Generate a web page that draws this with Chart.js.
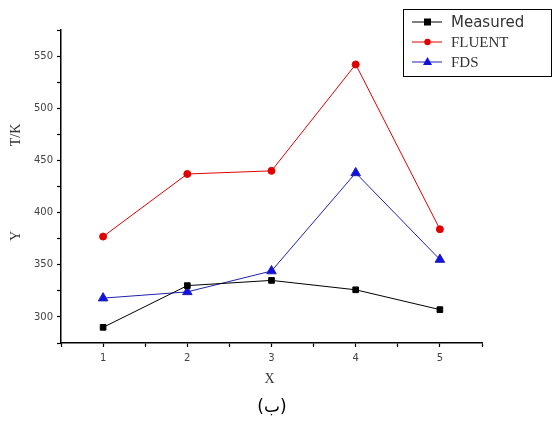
<!DOCTYPE html>
<html>
<head>
<meta charset="utf-8">
<script src="https://cdn.jsdelivr.net/npm/chart.js@4/dist/chart.umd.min.js"></script>
<style>
  html, body { margin: 0; padding: 0; background: #fff; }
  #wrap { width: 553px; height: 427px; }
</style>
</head>
<body>
<div id="wrap"><canvas id="grafico" width="553" height="427"></canvas></div>
<script>
// datos
const xValores = [1, 2, 3, 4, 5];
const medido = [290, 330, 335, 326, 307];
const fluent = [377, 437, 440, 542, 384];
const fds = [318, 324, 344, 438, 355];
const nombresSeries = ["Measured", "FLUENT", "FDS"];
const textoCaption = "(ب)";

const puntos = (ys) => xValores.map((x, i) => ({ x: x, y: ys[i] }));

// textos extra: titulos de ejes, leyenda con caja y caption
const extrasPlugin = {
    id: "extras",
    afterDraw(chart) {
        const ctx = chart.ctx;
        const area = chart.chartArea;
        ctx.save();
        ctx.fillStyle = "#333";
        ctx.font = "14px 'Liberation Serif'";
        ctx.textAlign = "center";
        ctx.textBaseline = "middle";
        // titulos del eje Y (rotados)
        [["T/K", 135], ["Y", 236]].forEach(([t, y]) => {
            ctx.save();
            ctx.translate(16, y);
            ctx.rotate(-Math.PI / 2);
            ctx.fillText(t, 0, 0);
            ctx.restore();
        });
        ctx.fillText("X", (area.left + area.right) / 2 - 2, 379);

        // caption
        ctx.fillStyle = "#000";
        ctx.font = "17px 'DejaVu Sans'";
        ctx.fillText(textoCaption, 272, 408);

        // leyenda
        ctx.strokeStyle = "#000";
        ctx.lineWidth = 1;
        ctx.strokeRect(403.5, 9.5, 148, 67);
        const estilos = [
            { color: "#000", marca: "square", font: "15px 'DejaVu Sans'" },
            { color: "#e00000", marca: "circle", font: "15px 'Liberation Serif'" },
            { color: "#1010e0", linea: "#2020b0", marca: "triangle", font: "15px 'Liberation Serif'" }
        ];
        nombresSeries.forEach((nombre, i) => {
            const y = 22 + i * 20;
            const e = estilos[i];
            ctx.strokeStyle = e.linea || e.color;
            ctx.beginPath();
            ctx.moveTo(412, y);
            ctx.lineTo(442, y);
            ctx.stroke();
            ctx.fillStyle = e.color;
            ctx.beginPath();
            if (e.marca === "square") ctx.rect(424, y - 3.5, 7, 7);
            else if (e.marca === "circle") ctx.arc(427.5, y, 3.2, 0, Math.PI * 2);
            else { ctx.moveTo(427.5, y - 5); ctx.lineTo(432, y + 3); ctx.lineTo(423, y + 3); ctx.closePath(); }
            ctx.fill();
            ctx.fillStyle = "#333";
            ctx.font = e.font;
            ctx.textAlign = "left";
            ctx.fillText(nombre, 451, y + 1);
        });
        ctx.restore();
    }
};

new Chart(document.getElementById("grafico").getContext("2d"), {
    type: "scatter",
    data: {
        datasets: [
            {
                label: nombresSeries[0], data: puntos(medido), showLine: true,
                borderColor: "#000", backgroundColor: "#000", borderWidth: 1,
                pointStyle: "rect", pointRadius: 4, pointHoverRadius: 4
            },
            {
                label: nombresSeries[1], data: puntos(fluent), showLine: true,
                borderColor: "#e00000", backgroundColor: "#e00000", borderWidth: 1,
                pointStyle: "circle", pointRadius: 3.5, pointHoverRadius: 3.5
            },
            {
                label: nombresSeries[2], data: puntos(fds), showLine: true,
                borderColor: "#2020b0", backgroundColor: "#1010e8", borderWidth: 1,
                pointStyle: "triangle", pointRadius: 5.5, pointHoverRadius: 5.5
            }
        ]
    },
    options: {
        responsive: false,
        animation: false,
        layout: { padding: { top: 30, right: 71, left: 0, bottom: 0 } },
        plugins: { legend: { display: false }, tooltip: { enabled: false } },
        scales: {
            x: {
                type: "linear", min: 0.5, max: 5.5,
                afterFit: (s) => { s.height = 84; },
                border: { color: "#000", width: 1.5 },
                grid: { drawOnChartArea: false, tickLength: 4, color: "#000", tickWidth: 1.2 },
                ticks: {
                    stepSize: 0.5, color: "#444", padding: 5,
                    font: { family: "'DejaVu Sans'", size: 10 },
                    callback: (v) => Number.isInteger(v) ? String(v) : ""
                }
            },
            y: {
                min: 275, max: 575,
                afterFit: (s) => { s.width = 61; },
                border: { color: "#000", width: 1.5 },
                grid: { drawOnChartArea: false, tickLength: 4, color: "#000", tickWidth: 1.2 },
                ticks: {
                    stepSize: 25, color: "#444", padding: 4,
                    font: { family: "'DejaVu Sans'", size: 10 },
                    callback: (v) => v % 50 === 0 ? String(v) : ""
                }
            }
        }
    },
    plugins: [extrasPlugin]
});
</script>
</body>
</html>
